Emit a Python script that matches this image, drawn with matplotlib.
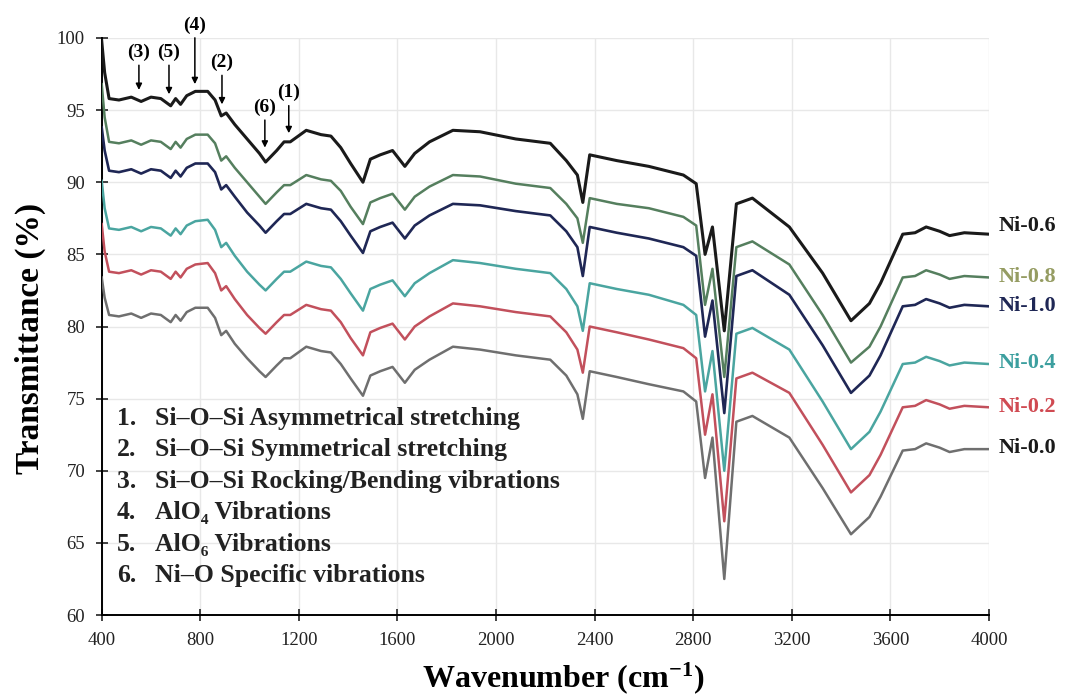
import matplotlib.pyplot as plt

# wavenumber grid (cm-1) shared by all spectra
wavenumber = [400, 412, 430, 470, 520, 560, 600, 640, 680, 700, 720, 745, 780, 830, 860,
              885, 905, 940, 990, 1040, 1065, 1110, 1140, 1165, 1230, 1290, 1330, 1370, 1410,
              1460, 1490, 1530, 1580, 1630, 1670, 1730, 1825, 1935, 2080, 2220, 2285, 2330,
              2352, 2380, 2490, 2620, 2760, 2812, 2848, 2878, 2926, 2975, 3040, 3190, 3325,
              3440, 3515, 3560, 3650, 3700, 3745, 3800, 3840, 3900, 4000]

ni_06 = [99.8, 97.6, 95.8, 95.7, 95.9, 95.6, 95.9, 95.8, 95.3, 95.8, 95.4, 96.0, 96.3, 96.3, 95.7,
         94.6, 94.8, 94.0, 93.0, 92.0, 91.4, 92.2, 92.8, 92.8, 93.6, 93.3, 93.2, 92.4, 91.3,
         90.0, 91.6, 91.9, 92.2, 91.1, 92.0, 92.8, 93.6, 93.5, 93.0, 92.7, 91.5, 90.5,
         88.6, 91.9, 91.5, 91.1, 90.5, 89.9, 85.0, 86.9, 79.7, 88.5, 88.9, 86.9, 83.7,
         80.4, 81.6, 83.0, 86.4, 86.5, 86.9, 86.6, 86.3, 86.5, 86.4]

ni_08 = [96.8, 94.5, 92.8, 92.7, 92.9, 92.6, 92.9, 92.8, 92.3, 92.8, 92.4, 93.0, 93.3, 93.3, 92.7,
         91.5, 91.8, 91.0, 90.0, 89.0, 88.5, 89.3, 89.8, 89.8, 90.5, 90.2, 90.1, 89.4, 88.3,
         87.1, 88.6, 88.9, 89.2, 88.1, 89.0, 89.7, 90.5, 90.4, 89.9, 89.6, 88.5, 87.5,
         85.8, 88.9, 88.5, 88.2, 87.6, 87.0, 81.5, 84.0, 76.5, 85.5, 85.9, 84.3, 80.8,
         77.5, 78.6, 80.0, 83.4, 83.5, 83.9, 83.6, 83.3, 83.5, 83.4]

ni_10 = [93.8, 92.2, 90.8, 90.7, 90.9, 90.6, 90.9, 90.8, 90.3, 90.8, 90.4, 91.0, 91.3, 91.3, 90.7,
         89.5, 89.8, 89.0, 87.9, 87.0, 86.5, 87.3, 87.8, 87.8, 88.5, 88.2, 88.1, 87.3, 86.3,
         85.1, 86.6, 86.9, 87.2, 86.1, 87.0, 87.7, 88.5, 88.4, 88.0, 87.7, 86.6, 85.5,
         83.5, 86.9, 86.5, 86.1, 85.5, 84.9, 79.3, 81.8, 74.0, 83.5, 83.9, 82.2, 78.7,
         75.4, 76.6, 78.0, 81.4, 81.5, 81.9, 81.6, 81.3, 81.5, 81.4]

ni_04 = [90.1, 88.2, 86.8, 86.7, 86.9, 86.6, 86.9, 86.8, 86.3, 86.8, 86.4, 87.0, 87.3, 87.4, 86.7,
         85.5, 85.8, 84.9, 83.8, 82.9, 82.5, 83.3, 83.8, 83.8, 84.5, 84.2, 84.1, 83.3, 82.3,
         81.1, 82.6, 82.9, 83.2, 82.1, 83.0, 83.7, 84.6, 84.4, 84.0, 83.7, 82.6, 81.4,
         79.7, 83.0, 82.6, 82.2, 81.5, 80.8, 75.5, 78.3, 70.0, 79.5, 79.9, 78.4, 74.8,
         71.5, 72.7, 74.1, 77.4, 77.5, 77.9, 77.6, 77.3, 77.5, 77.4]

ni_02 = [87.1, 85.2, 83.8, 83.7, 83.9, 83.6, 83.9, 83.8, 83.3, 83.8, 83.4, 84.0, 84.3, 84.4, 83.7,
         82.5, 82.8, 81.9, 80.8, 79.9, 79.5, 80.3, 80.8, 80.8, 81.5, 81.2, 81.1, 80.3, 79.2,
         78.0, 79.6, 79.9, 80.2, 79.1, 80.0, 80.7, 81.6, 81.4, 81.0, 80.7, 79.6, 78.4,
         76.8, 80.0, 79.6, 79.1, 78.5, 77.8, 72.5, 75.3, 66.5, 76.4, 76.8, 75.4, 71.8,
         68.5, 69.7, 71.1, 74.4, 74.5, 74.9, 74.6, 74.3, 74.5, 74.4]

ni_00 = [83.4, 82.0, 80.8, 80.7, 80.9, 80.6, 80.9, 80.8, 80.3, 80.8, 80.4, 81.0, 81.3, 81.3, 80.6,
         79.4, 79.7, 78.8, 77.8, 76.9, 76.5, 77.3, 77.8, 77.8, 78.6, 78.3, 78.2, 77.4, 76.4,
         75.2, 76.6, 76.9, 77.2, 76.1, 77.0, 77.7, 78.6, 78.4, 78.0, 77.7, 76.6, 75.3,
         73.6, 76.9, 76.5, 76.0, 75.5, 74.8, 69.5, 72.3, 62.5, 73.4, 73.8, 72.3, 68.8,
         65.6, 66.8, 68.2, 71.4, 71.5, 71.9, 71.6, 71.3, 71.5, 71.5]

series_names = ["Ni-0.6", "Ni-0.8", "Ni-1.0", "Ni-0.4", "Ni-0.2", "Ni-0.0"]
label_y = [87.0, 83.45, 81.4, 77.5, 74.4, 71.6]

# band assignments: (label, arrow tip wavenumber, tip value, text y)
band_marks = [("(3)", 551, 96.4, 99.0),
              ("(5)", 673, 96.1, 99.0),
              ("(4)", 778, 96.8, 100.9),
              ("(2)", 888, 95.4, 98.3),
              ("(6)", 1062, 92.4, 95.2),
              ("(1)", 1159, 93.4, 96.2)]

band_notes = ["Si\u2013O\u2013Si Asymmetrical stretching",
              "Si\u2013O\u2013Si Symmetrical stretching",
              "Si\u2013O\u2013Si Rocking/Bending vibrations",
              "AlO\u2084 Vibrations",
              "AlO\u2086 Vibrations",
              "Ni\u2013O Specific vibrations"]

plt.rcParams['font.family'] = ['Liberation Serif', 'DejaVu Serif']
plt.rcParams['mathtext.fontset'] = 'custom'
plt.rcParams['mathtext.rm'] = 'Liberation Serif:bold'
plt.rcParams['mathtext.bf'] = 'Liberation Serif:bold'
plt.rcParams['mathtext.default'] = 'rm'

fig = plt.figure(figsize=(10.75, 6.97), dpi=100)
ax = fig.add_axes([0.0946, 0.1176, 0.8254, 0.8279])

line_colors = ["#1a1a1a", "#557f5e", "#1f2755", "#4aa5a0", "#c2505c", "#6f6f6f"]
text_colors = ["#1a1a1a", "#959c62", "#1f2755", "#3c9f9f", "#d04a52", "#1a1a1a"]
widths = [2.2, 1.8, 1.9, 1.8, 1.8, 1.8]

all_series = [ni_06, ni_08, ni_10, ni_04, ni_02, ni_00]
for vals, name, c, tc, lw, ly in zip(all_series, series_names, line_colors, text_colors, widths, label_y):
    ax.plot(wavenumber, vals, color=c, lw=lw, zorder=3)
    ax.text(4040, ly, name, color=tc, fontsize=16, fontweight='bold',
            va='center', ha='left', clip_on=False)

for lab, xt, yt, ytext in band_marks:
    ax.annotate(lab, xy=(xt, yt), xytext=(xt, ytext), ha='center', va='center',
                fontsize=14, fontweight='bold', annotation_clip=False,
                arrowprops=dict(arrowstyle='-|>', color='black', lw=1.1,
                                mutation_scale=9, shrinkA=1, shrinkB=0))

ax.set_xlim(400, 4000)
ax.set_ylim(60, 100)
ax.set_xticks(range(400, 4001, 400))
ax.set_yticks(range(60, 101, 5))
ax.grid(True, color='#e8e8e8', lw=1.0, zorder=0)
ax.spines['top'].set_visible(False)
ax.spines['right'].set_visible(False)
ax.spines['left'].set_linewidth(1.4)
ax.spines['bottom'].set_linewidth(1.4)
ax.tick_params(direction='inout', length=8, width=1.2, labelsize=13.5, colors='#222222')
ax.tick_params(axis='x', pad=8)
ax.tick_params(axis='y', pad=8)

fig.text(563 / 1075, 1 - 678 / 697, "Wavenumber (cm$^{-1}$)", fontsize=23,
         fontweight='bold', ha='center', va='center')
fig.text(30 / 1075, 1 - 338 / 697, "Transmittance (%)", fontsize=24,
         fontweight='bold', ha='center', va='center', rotation=90)

# band assignment list, white box over the grid
ax.add_patch(plt.Rectangle((0.004, 0.035), 0.52, 0.34, transform=ax.transAxes,
                           facecolor='white', edgecolor='none', zorder=1))
for i, note in enumerate(band_notes):
    yy = 0.341 - i * 0.0546
    ax.text(0.017, yy, f"{i + 1}.", transform=ax.transAxes, fontsize=18.5,
            fontweight='bold', va='center', color='#222222', zorder=5)
    ax.text(0.060, yy, note, transform=ax.transAxes, fontsize=18.5,
            fontweight='bold', va='center', color='#222222', zorder=5)

fig.savefig("out.png", dpi=100)
